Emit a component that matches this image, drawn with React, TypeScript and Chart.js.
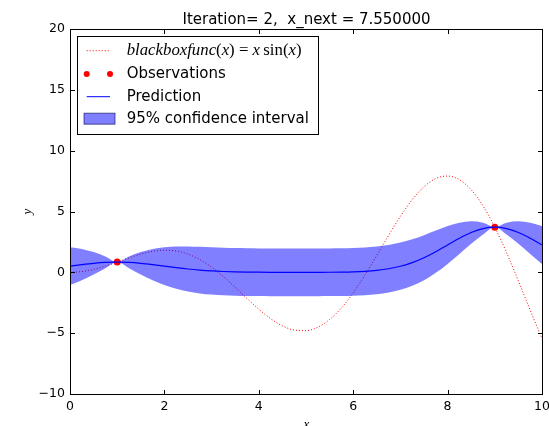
import React, { useEffect, useRef } from "react";
import { Chart, registerables } from "chart.js";
Chart.register(...registerables);

const xGrid = [0, 0.25, 0.5, 0.75, 1, 1.25, 1.5, 1.75, 2, 2.25, 2.5, 2.75, 3, 3.25, 3.5, 3.75, 4, 4.25, 4.5, 4.75, 5, 5.25, 5.5, 5.75, 6, 6.25, 6.5, 6.75, 7, 7.25, 7.5, 7.75, 8, 8.25, 8.5, 8.75, 9, 9.25, 9.5, 9.75, 10];
const blackboxY = [0, 0.062, 0.24, 0.511, 0.841, 1.186, 1.496, 1.722, 1.819, 1.751, 1.496, 1.05, 0.423, -0.351, -1.228, -2.144, -3.027, -3.804, -4.399, -4.747, -4.795, -4.509, -3.88, -2.929, -1.676, -0.207, 1.398, 3.038, 4.599, 5.968, 7.035, 7.708, 7.915, 7.613, 6.787, 5.466, 3.709, 1.612, -0.714, -3.115, -5.44];
const predMean = [0.51, 0.635, 0.743, 0.816, 0.841, 0.816, 0.743, 0.635, 0.51, 0.385, 0.273, 0.182, 0.114, 0.067, 0.037, 0.019, 0.009, 0.004, 0.002, 0.001, 0.001, 0.003, 0.008, 0.019, 0.041, 0.085, 0.163, 0.295, 0.502, 0.802, 1.204, 1.698, 2.25, 2.8, 3.273, 3.595, 3.709, 3.595, 3.273, 2.8, 2.25];
const ciUpper = [2.069, 1.921, 1.664, 1.298, 0.841, 1.298, 1.664, 1.921, 2.069, 2.128, 2.127, 2.096, 2.056, 2.021, 1.995, 1.979, 1.969, 1.964, 1.962, 1.961, 1.961, 1.963, 1.968, 1.979, 2.001, 2.044, 2.121, 2.249, 2.444, 2.716, 3.058, 3.441, 3.808, 4.085, 4.195, 4.078, 3.709, 4.078, 4.195, 4.085, 3.808];
const ciLower = [-1.048, -0.65, -0.179, 0.333, 0.841, 0.333, -0.179, -0.65, -1.048, -1.357, -1.581, -1.732, -1.828, -1.887, -1.921, -1.94, -1.951, -1.956, -1.958, -1.959, -1.959, -1.957, -1.952, -1.941, -1.919, -1.875, -1.795, -1.659, -1.44, -1.111, -0.65, -0.044, 0.691, 1.514, 2.352, 3.113, 3.709, 3.113, 2.352, 1.514, 0.691];
const obsX = [1, 9];
const obsY = [0.841, 3.709];
const xTicks = [0, 2, 4, 6, 8, 10];
const yTicks = [-10, -5, 0, 5, 10, 15, 20];
const titleText = "Iteration= 2,  x_next = 7.550000";
const legendLabels = ["blackboxfunc(x) = x sin(x)", "Observations", "Prediction", "95% confidence interval"];
const xLabel = "x";
const yLabel = "y";

const pts = (xs: number[], ys: number[]) => xs.map((x, i) => ({ x, y: ys[i] }));

const BAND = "rgba(0,0,255,0.5)";
const SANS = "'DejaVu Sans', sans-serif";
const SERIF = "'Liberation Serif', 'DejaVu Serif', serif";

function drawMath(ctx: CanvasRenderingContext2D, x: number, y: number, targetW: number) {
  const segs: [string, boolean][] = [
    ["blackboxfunc", true], ["(", false], ["x", true], [")", false], [" = ", false],
    ["x", true], ["\u2009sin", false], ["(", false], ["x", true], [")", false],
  ];
  const measure = (s: number) => {
    let w = 0;
    for (const [t, it] of segs) {
      ctx.font = `${it ? "italic " : ""}${s}px ${SERIF}`;
      w += ctx.measureText(t).width;
    }
    return w;
  };
  const base = 16;
  const size = (base * targetW) / measure(base);
  let cx = x;
  for (const [t, it] of segs) {
    ctx.font = `${it ? "italic " : ""}${size}px ${SERIF}`;
    ctx.fillText(t, cx, y);
    cx += ctx.measureText(t).width;
  }
}

const decor = {
  id: "decor",
  afterDatasetsDraw(chart: any) {
    const { ctx, chartArea: ca, scales } = chart;
    const sx = scales.x, sy = scales.y;
    ctx.save();
    // frame
    ctx.strokeStyle = "#000";
    ctx.lineWidth = 1;
    ctx.strokeRect(ca.left + 0.5, ca.top + 0.5, ca.right - ca.left, ca.bottom - ca.top);
    // inward ticks
    ctx.beginPath();
    for (const v of xTicks) {
      const px = Math.round(sx.getPixelForValue(v)) + 0.5;
      ctx.moveTo(px, ca.bottom + 0.5); ctx.lineTo(px, ca.bottom - 4);
      ctx.moveTo(px, ca.top + 0.5); ctx.lineTo(px, ca.top + 5);
    }
    for (const v of yTicks) {
      const py = Math.round(sy.getPixelForValue(v)) + 0.5;
      ctx.moveTo(ca.left + 0.5, py); ctx.lineTo(ca.left + 5, py);
      ctx.moveTo(ca.right + 0.5, py); ctx.lineTo(ca.right - 4, py);
    }
    ctx.stroke();

    // title
    ctx.fillStyle = "#000";
    ctx.font = `15px ${SANS}`;
    ctx.textAlign = "center";
    ctx.textBaseline = "alphabetic";
    ctx.fillText(titleText, (ca.left + ca.right) / 2 + 0.5, ca.top - 5.5);

    // axis labels
    ctx.font = `italic 13px ${SERIF}`;
    ctx.textBaseline = "alphabetic";
    ctx.fillText(xLabel, (ca.left + ca.right) / 2 + 0.5, 428);
    ctx.save();
    ctx.translate(31, (ca.top + ca.bottom) / 2);
    ctx.rotate(-Math.PI / 2);
    ctx.fillText(yLabel, 0, 0);
    ctx.restore();

    // legend
    const L = ca.left + 7.5, T = ca.top + 7.5, W = 241, H = 98;
    ctx.fillStyle = "#fff";
    ctx.fillRect(L, T, W, H);
    ctx.strokeStyle = "#000";
    ctx.strokeRect(L, T, W, H);
    const rows = [T + 14.2, T + 37.5, T + 60.2, T + 82.2];
    const h0 = L + 9.2, h1 = L + 32.5, tx = L + 49.2;
    // row 1: dotted red
    ctx.strokeStyle = "#ff0000";
    ctx.setLineDash([1, 2]);
    ctx.beginPath(); ctx.moveTo(h0, rows[0]); ctx.lineTo(h1, rows[0]); ctx.stroke();
    ctx.setLineDash([]);
    // row 2: dots
    ctx.fillStyle = "#ff0000";
    for (const hx of [h0, h1]) { ctx.beginPath(); ctx.arc(hx, rows[1], 3, 0, Math.PI * 2); ctx.fill(); }
    // row 3: blue line
    ctx.strokeStyle = "#0000ff";
    ctx.beginPath(); ctx.moveTo(h0, rows[2]); ctx.lineTo(h1, rows[2]); ctx.stroke();
    // row 4: patch
    ctx.fillStyle = BAND;
    ctx.fillRect(L + 6.5, rows[3] - 5.5, 31, 11);
    ctx.strokeStyle = "rgba(0,0,80,0.6)";
    ctx.strokeRect(L + 6.5, rows[3] - 5.5, 31, 11);
    // texts
    ctx.fillStyle = "#000";
    ctx.textAlign = "left";
    ctx.textBaseline = "middle";
    drawMath(ctx, tx, rows[0], 175);
    ctx.font = `15px ${SANS}`;
    ctx.fillText(legendLabels[1], tx, rows[1]);
    ctx.fillText(legendLabels[2], tx, rows[2]);
    ctx.fillText(legendLabels[3], tx, rows[3]);
    ctx.restore();
  },
};

export default function App() {
  const ref = useRef<HTMLCanvasElement>(null);
  useEffect(() => {
    if (!ref.current) return;
    const chart = new Chart(ref.current, {
      type: "line",
      data: {
        datasets: [
          { label: "95% confidence interval", data: pts(xGrid, ciUpper), borderWidth: 0, pointRadius: 0, fill: "+1", backgroundColor: BAND, borderColor: "rgba(0,0,0,0)" },
          { label: "lower", data: pts(xGrid, ciLower), borderWidth: 0, pointRadius: 0, fill: false, borderColor: "rgba(0,0,0,0)" },
          { label: "Prediction", data: pts(xGrid, predMean), borderColor: "#0000ff", borderWidth: 1.2, pointRadius: 0, fill: false },
          { label: "Observations", data: pts(obsX, obsY), showLine: false, pointRadius: 3.5, pointBackgroundColor: "#ff0000", pointBorderWidth: 0, borderColor: "#ff0000", fill: false },
          { label: legendLabels[0], data: pts(xGrid, blackboxY), borderColor: "#ff0000", borderWidth: 1, borderDash: [1, 2], pointRadius: 0, fill: false },
        ],
      },
      options: {
        responsive: false,
        animation: false,
        events: [],
        layout: { padding: { left: 0, right: 7, top: 29, bottom: 0 } },
        elements: { line: { cubicInterpolationMode: "monotone" } },
        plugins: { legend: { display: false }, title: { display: false }, tooltip: { enabled: false } },
        scales: {
          x: {
            type: "linear", min: 0, max: 10,
            afterBuildTicks: (s: any) => { s.ticks = xTicks.map((v) => ({ value: v })); },
            afterFit: (s: any) => { s.height = 32; s.paddingLeft = 0; s.paddingRight = 0; },
            grid: { display: false, drawTicks: false },
            border: { display: false },
            ticks: { color: "#000", font: { family: SANS, size: 12.5 }, padding: 5, maxRotation: 0, autoSkip: false },
          },
          y: {
            type: "linear", min: -10, max: 20,
            afterBuildTicks: (s: any) => { s.ticks = yTicks.map((v) => ({ value: v })); },
            afterFit: (s: any) => { s.width = 70; s.paddingTop = 0; s.paddingBottom = 0; },
            grid: { display: false, drawTicks: false },
            border: { display: false },
            ticks: {
              color: "#000", font: { family: SANS, size: 12.5 }, padding: 5, autoSkip: false,
              callback: (v: any) => (Number(v) < 0 ? "\u2212" + Math.abs(Number(v)) : String(v)),
            },
          },
        },
      },
      plugins: [decor],
    });
    return () => chart.destroy();
  }, []);
  return (
    <div style={{ position: "fixed", left: 0, top: 0, width: 549, height: 426, background: "#fff" }}>
      <canvas ref={ref} width={549} height={426} style={{ width: 549, height: 426, display: "block" }} />
    </div>
  );
}
